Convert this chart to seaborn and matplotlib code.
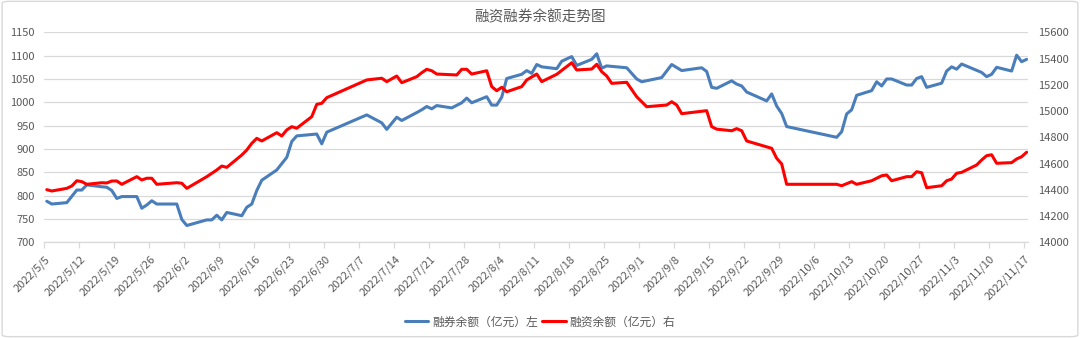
import matplotlib
matplotlib.use("Agg")
import matplotlib.pyplot as plt
import pandas as pd
import seaborn as sns
from matplotlib.lines import Line2D
from matplotlib.patches import FancyBboxPatch

# 融券余额（亿元），左轴
short_dates = [
    "05-05", "05-06", "05-09", "05-11", "05-12", "05-13", "05-16", "05-17", "05-18", "05-19",
    "05-20", "05-23", "05-24", "05-25", "05-26", "05-27", "05-31", "06-01", "06-02", "06-06",
    "06-07", "06-08", "06-09", "06-10", "06-13", "06-14", "06-15", "06-16", "06-17", "06-20",
    "06-22", "06-23", "06-24", "06-28", "06-29", "06-30", "07-08", "07-11", "07-12", "07-14",
    "07-15", "07-18", "07-19", "07-20", "07-21", "07-22", "07-25", "07-27", "07-28", "07-29",
    "08-01", "08-02", "08-03", "08-04", "08-05", "08-08", "08-09", "08-10", "08-11", "08-12",
    "08-15", "08-16", "08-18", "08-19", "08-22", "08-23", "08-24", "08-25", "08-29", "08-31",
    "09-01", "09-05", "09-07", "09-09", "09-13", "09-14", "09-15", "09-16", "09-19", "09-20",
    "09-21", "09-22", "09-26", "09-27", "09-28", "09-29", "09-30", "10-10", "10-11", "10-12",
    "10-13", "10-14", "10-17", "10-18", "10-19", "10-20", "10-21", "10-24", "10-25", "10-26",
    "10-27", "10-28", "10-31", "11-01", "11-02", "11-03", "11-04", "11-08", "11-09", "11-10",
    "11-11", "11-14", "11-15", "11-16", "11-17",
]
short_balance = [
    788, 782, 785, 812, 812, 823, 819, 818, 811, 794,
    798, 798, 773, 780, 789, 782, 782, 749, 736, 748,
    748, 758, 748, 764, 757, 775, 782, 811, 833, 855,
    882, 916, 928, 932, 911, 936, 973, 956, 942, 968,
    961, 978, 984, 991, 986, 993, 988, 999, 1009, 999,
    1012, 994, 994, 1011, 1051, 1060, 1068, 1062, 1081, 1076,
    1072, 1088, 1098, 1079, 1092, 1104, 1073, 1078, 1074, 1050,
    1044, 1053, 1081, 1068, 1074, 1066, 1032, 1030, 1046, 1039,
    1035, 1022, 1003, 1018, 992, 976, 948, 925, 937, 975,
    984, 1015, 1025, 1044, 1035, 1050, 1050, 1037, 1037, 1051,
    1055, 1032, 1041, 1067, 1076, 1071, 1082, 1064, 1055, 1060,
    1075, 1067, 1101, 1087, 1092,
]

# 融资余额（亿元），右轴
margin_dates = [
    "05-05", "05-06", "05-09", "05-10", "05-11", "05-12", "05-13", "05-16", "05-17", "05-18",
    "05-19", "05-20", "05-23", "05-24", "05-25", "05-26", "05-27", "05-31", "06-01", "06-02",
    "06-06", "06-08", "06-09", "06-10", "06-13", "06-14", "06-15", "06-16", "06-17", "06-20",
    "06-21", "06-22", "06-23", "06-24", "06-27", "06-28", "06-29", "06-30", "07-08", "07-11",
    "07-12", "07-14", "07-15", "07-18", "07-19", "07-20", "07-21", "07-22", "07-26", "07-27",
    "07-28", "07-29", "08-01", "08-02", "08-03", "08-04", "08-05", "08-08", "08-09", "08-11",
    "08-12", "08-15", "08-18", "08-19", "08-22", "08-23", "08-24", "08-25", "08-26", "08-29",
    "08-31", "09-02", "09-06", "09-07", "09-08", "09-09", "09-14", "09-15", "09-16", "09-19",
    "09-20", "09-21", "09-22", "09-27", "09-28", "09-29", "09-30", "10-10", "10-11", "10-13",
    "10-14", "10-17", "10-19", "10-20", "10-21", "10-24", "10-25", "10-26", "10-27", "10-28",
    "10-31", "11-01", "11-02", "11-03", "11-04", "11-07", "11-08", "11-09", "11-10", "11-11",
    "11-14", "11-15", "11-16", "11-17",
]
margin_balance = [
    14401, 14391, 14411, 14429, 14469, 14462, 14442, 14454, 14452, 14467,
    14467, 14442, 14500, 14475, 14488, 14488, 14442, 14454, 14450, 14411,
    14500, 14551, 14581, 14571, 14665, 14703, 14754, 14792, 14772, 14835,
    14810, 14856, 14881, 14869, 14957, 15051, 15059, 15102, 15237, 15250,
    15224, 15267, 15216, 15262, 15292, 15318, 15307, 15282, 15275, 15318,
    15318, 15282, 15307, 15186, 15155, 15181, 15147, 15186, 15237, 15282,
    15224, 15280, 15368, 15313, 15320, 15356, 15300, 15267, 15211, 15219,
    15109, 15033, 15046, 15071, 15046, 14980, 15003, 14881, 14862, 14850,
    14866, 14850, 14772, 14716, 14640, 14597, 14442, 14442, 14431, 14462,
    14442, 14469, 14507, 14513, 14469, 14500, 14500, 14538, 14530, 14416,
    14431, 14469, 14482, 14526, 14533, 14589, 14627, 14660, 14667, 14602,
    14607, 14635, 14652, 14686,
]

title = "融资融券余额走势图"
short_label = "融券余额（亿元）左"
margin_label = "融资余额（亿元）右"
left_ticks = list(range(700, 1151, 50))
right_ticks = list(range(14000, 15601, 200))

BLUE = "#4a7ebb"
RED = "#ff0000"
TEXT = "#595959"
GRID = "#d9d9d9"

short_df = pd.DataFrame({"date": pd.to_datetime(["2022-" + d for d in short_dates]),
                         "value": short_balance})
margin_df = pd.DataFrame({"date": pd.to_datetime(["2022-" + d for d in margin_dates]),
                          "value": margin_balance})

sns.set_theme(style="white")
plt.rcParams["font.family"] = ["Noto Sans CJK SC", "DejaVu Sans"]

fig = plt.figure(figsize=(10.8, 3.38), dpi=100)
W, H = 1080, 338
ax = fig.add_axes([44.3 / W, 1 - 242.3 / H, (1028.3 - 44.3) / W, 210 / H])
ax2 = ax.twinx()

sns.lineplot(data=short_df, x="date", y="value", ax=ax, color=BLUE, lw=2.2,
             estimator=None, legend=False)
sns.lineplot(data=margin_df, x="date", y="value", ax=ax2, color=RED, lw=2.2,
             estimator=None, legend=False)

start = pd.Timestamp("2022-05-05")
end = pd.Timestamp("2022-11-17")
ax.set_xlim(start - pd.Timedelta(hours=12), end + pd.Timedelta(hours=7))

ax.set_ylim(700, 1150)
ax.set_yticks(left_ticks)
ax2.set_ylim(14000, 15600)
ax2.set_yticks(right_ticks)

ax.yaxis.grid(True, color=GRID, lw=0.9)
ax.set_axisbelow(True)
ax2.grid(False)

for a in (ax, ax2):
    a.set_xlabel("")
    a.set_ylabel("")
    for s in a.spines.values():
        s.set_visible(False)
ax.spines["bottom"].set_visible(True)
ax.spines["bottom"].set_color(GRID)
ax.spines["bottom"].set_linewidth(0.9)

tick_dates = pd.date_range(start, end, freq="7D")
tick_labels = [f"{d.year}/{d.month}/{d.day}" for d in tick_dates]
ax.set_xticks(tick_dates + pd.Timedelta(hours=8))
ax.set_xticklabels(tick_labels, rotation=45, ha="right", va="center",
                   rotation_mode="anchor")
ax.set_xticks(tick_dates - pd.Timedelta(hours=12), minor=True)
ax.tick_params(axis="x", which="major", length=0, pad=11, labelsize=8,
               labelcolor=TEXT, bottom=True)
ax.tick_params(axis="x", which="minor", length=4, width=0.9, color=GRID,
               direction="out", bottom=True)

ax.tick_params(axis="y", length=0, pad=7, labelsize=8, labelcolor=TEXT)
ax2.tick_params(axis="y", length=0, pad=7, labelsize=8, labelcolor=TEXT)

fig.text(0.5, 1 - 17 / H, title, ha="center", va="center", fontsize=10.5, color=TEXT)

handles = [Line2D([], [], color=BLUE, lw=2.2), Line2D([], [], color=RED, lw=2.2)]
fig.legend(handles, [short_label, margin_label], loc="center",
           bbox_to_anchor=(0.5, 1 - 322 / H), ncol=2, frameon=False, fontsize=8.5,
           handlelength=2.0, handletextpad=0.3, columnspacing=0.4, labelcolor=TEXT)

fig.patches.append(FancyBboxPatch((0.002, 0.004), 0.996, 0.992,
                                  boxstyle="round,pad=0,rounding_size=0.006",
                                  transform=fig.transFigure, fc="none", ec=GRID, lw=1))

fig.savefig("out.png", dpi=100)
